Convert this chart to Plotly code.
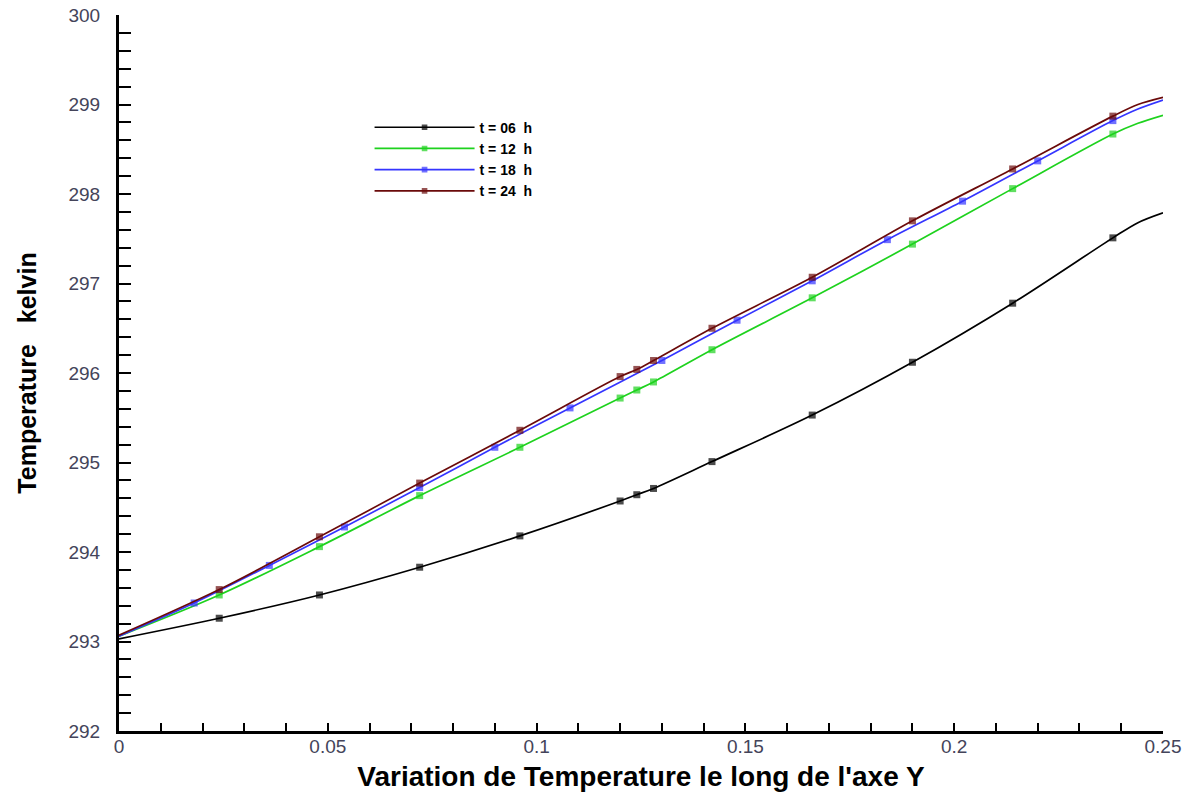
import plotly.graph_objects as go

# ---- data ----
t06_x = [0, 0.024, 0.048, 0.072, 0.096, 0.12, 0.124, 0.128, 0.142, 0.166, 0.19, 0.214, 0.238, 0.244, 0.25]
t06_y = [293.03, 293.26, 293.52, 293.83, 294.18, 294.57, 294.64, 294.71, 295.01, 295.53, 296.12, 296.78, 297.51, 297.68, 297.79]

t12_x = [0, 0.024, 0.048, 0.072, 0.096, 0.12, 0.124, 0.128, 0.142, 0.166, 0.19, 0.214, 0.238, 0.244, 0.25]
t12_y = [293.06, 293.52, 294.06, 294.63, 295.17, 295.72, 295.81, 295.90, 296.26, 296.84, 297.44, 298.06, 298.67, 298.79, 298.88]

t18_x = [0, 0.018, 0.036, 0.054, 0.072, 0.090, 0.108, 0.130, 0.148, 0.166, 0.184, 0.202, 0.220, 0.238, 0.244, 0.25]
t18_y = [293.06, 293.43, 293.85, 294.28, 294.72, 295.17, 295.61, 296.14, 296.59, 297.03, 297.49, 297.92, 298.37, 298.82, 298.95, 299.05]

t24_x = [0, 0.024, 0.048, 0.072, 0.096, 0.12, 0.124, 0.128, 0.142, 0.166, 0.19, 0.214, 0.238, 0.244, 0.25]
t24_y = [293.07, 293.58, 294.17, 294.77, 295.36, 295.96, 296.04, 296.14, 296.50, 297.07, 297.70, 298.28, 298.87, 299.00, 299.08]

# points of each curve that carry a symbol (start and tail have none)
marked_main = [0.024, 0.048, 0.072, 0.096, 0.12, 0.124, 0.128, 0.142, 0.166, 0.19, 0.214, 0.238]
marked_blue = [0.018, 0.036, 0.054, 0.072, 0.090, 0.108, 0.130, 0.148, 0.166, 0.184, 0.202, 0.220, 0.238]

series_names = ["t = 06\u00a0\u00a0h", "t = 12\u00a0\u00a0h", "t = 18\u00a0\u00a0h", "t = 24\u00a0\u00a0h"]
series_colors = ["#000000", "#1ed21e", "#3535ff", "#6a0a0a"]

x_ticks = [0, 0.05, 0.1, 0.15, 0.2, 0.25]
x_ticktext = ["0", "0.05", "0.1", "0.15", "0.2", "0.25"]
y_ticks = [292, 293, 294, 295, 296, 297, 298, 299, 300]

series = [
    (t06_x, t06_y, marked_main),
    (t12_x, t12_y, marked_main),
    (t18_x, t18_y, marked_blue),
    (t24_x, t24_y, marked_main),
]

FONT = "Arial, 'Liberation Sans', sans-serif"

fig = go.Figure()
for (xs, ys, marks), name, color in zip(series, series_names, series_colors):
    sizes = [7 if x in marks else 0 for x in xs]
    fig.add_trace(go.Scatter(
        x=xs, y=ys, name=name, mode="lines+markers",
        line=dict(color=color, width=1.7, shape="spline", smoothing=0.9),
        marker=dict(color=color, size=sizes, symbol="square", line=dict(width=0)),
    ))

fig.update_layout(
    width=1193, height=793,
    paper_bgcolor="white", plot_bgcolor="white",
    margin=dict(l=119, r=30, t=15, b=62, pad=0),
    font=dict(family=FONT, color="#000000"),
    showlegend=True,
    legend=dict(
        x=0.24, y=0.865, xanchor="left", yanchor="top",
        bgcolor="rgba(0,0,0,0)", borderwidth=0,
        font=dict(family=FONT, size=14, color="#000000", weight="bold"),
        itemwidth=100, tracegroupgap=0,
    ),
    xaxis=dict(
        range=[0, 0.25], tickvals=x_ticks, ticktext=x_ticktext,
        ticks="inside", ticklen=8, tickwidth=2, tickcolor="#000000",
        minor=dict(dtick=0.01, ticks="inside", ticklen=8, tickwidth=2, tickcolor="#000000", showgrid=False),
        showline=True, linewidth=3, linecolor="#000000",
        showgrid=False, zeroline=False, automargin=False,
        tickfont=dict(family=FONT, size=19, color="#44445a"),
        ticklabelstandoff=-4,
        title=dict(text="Variation de Temperature le long de l'axe Y",
                   font=dict(family=FONT, size=28, color="#000000", weight="bold"),
                   standoff=11),
    ),
    yaxis=dict(
        range=[292, 300], tickvals=y_ticks,
        ticks="inside", ticklen=3, tickwidth=2, tickcolor="#000000",
        minor=dict(dtick=0.2, ticks="inside", ticklen=12, tickwidth=2, tickcolor="#000000", showgrid=False),
        showline=True, linewidth=3, linecolor="#000000",
        showgrid=False, zeroline=False, automargin=False,
        tickfont=dict(family=FONT, size=19, color="#44445a"),
        ticklabelstandoff=12,
        title=dict(text="Temperature\u00a0\u00a0\u00a0kelvin",
                   font=dict(family=FONT, size=25, color="#000000", weight="bold"),
                   standoff=25),
    ),
)

fig.write_html(
    "out.html",
    config={"displayModeBar": False},
    post_script="document.body.style.margin='0';document.body.style.overflow='hidden';",
)
